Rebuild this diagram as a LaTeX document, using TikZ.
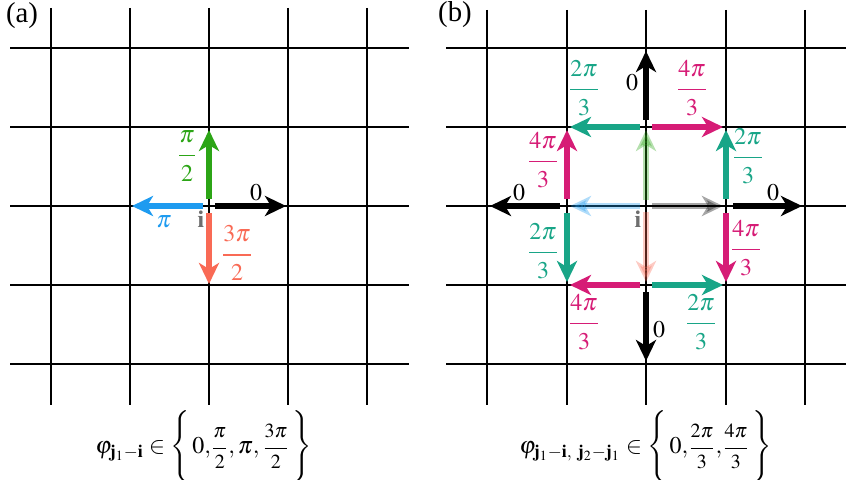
\documentclass[tikz,border=0pt]{standalone}
\usepackage{amsmath}
\usepackage{mathptmx}
\usepackage{fontspec}
\setmainfont{Liberation Serif}
\usetikzlibrary{arrows.meta}
\definecolor{cgreen}{RGB}{44,165,22}
\definecolor{cblue}{RGB}{30,155,240}
\definecolor{cred}{RGB}{249,106,85}
\definecolor{cteal}{RGB}{24,165,135}
\definecolor{cmag}{RGB}{214,28,118}
\definecolor{cgray}{RGB}{110,110,110}
\newcommand{\myfr}[2]{\genfrac{}{}{0.6pt}{0}{\raisebox{1.5pt}{$#1$}}{\raisebox{-1.5pt}{$#2$}}}
\newcommand{\smfr}[2]{\mbox{\normalsize$\genfrac{}{}{0.5pt}{0}{\raisebox{1pt}{$#1$}}{\raisebox{-1pt}{$#2$}}$}}
\tikzset{
  gridline/.style={line width=1pt,black},
  vec/.style={line width=2.6pt,-{Stealth[length=10.5pt,width=10pt,inset=3pt]}},
  faded/.style={vec,opacity=0.35},
  lab/.style={inner sep=0pt,font=\large},
}
\begin{document}
\begin{tikzpicture}[x=0.5pt,y=-0.5pt]
\useasboundingbox (0,0) rectangle (860,480);
% panel (a) grid
\foreach \x in {51,130,209,288,367} \draw[gridline] (\x,8) -- (\x,405);
\foreach \y in {48,127,206,285,364} \draw[gridline] (10,\y) -- (409,\y);
% panel (b) grid
\foreach \x in {487,567,646,726,805} \draw[gridline] (\x,10) -- (\x,405);
\foreach \y in {48,127,206,285,364} \draw[gridline] (446,\y) -- (846,\y);

\node[lab,font=\Large] (la) at (22,16) {(a)};
\node[lab,font=\Large] (lb) at (455,15) {(b)};

% ---- panel (a) arrows
\coordinate (aU0) at (209,199); \coordinate (aU1) at (209,130);
\coordinate (aR0) at (215,206); \coordinate (aR1) at (286,206);
\coordinate (aL0) at (203,206); \coordinate (aL1) at (132,206);
\coordinate (aD0) at (209,213); \coordinate (aD1) at (209,284);
\draw[vec,cgreen] (aU0) -- (aU1);
\draw[vec,black] (aR0) -- (aR1);
\draw[vec,cblue] (aL0) -- (aL1);
\draw[vec,cred] (aD0) -- (aD1);
\node[lab,text=cgreen] (apu) at (187,156) {$\myfr{\pi}{2}$};
\node[lab] (ap0) at (256,193) {$0$};
\node[lab,text=cblue] (app) at (164,222) {$\pi$};
\node[lab,text=cred] (ap3) at (237,253) {$\myfr{3\pi}{2}$};
\node[lab,text=cgray] (ai) at (201,219) {$\mathbf{i}$};

% ---- panel (b) faded centre arrows
\coordinate (bU0) at (646,200); \coordinate (bU1) at (646,130);
\coordinate (bR0) at (652,206); \coordinate (bR1) at (723,206);
\coordinate (bL0) at (640,206); \coordinate (bL1) at (570,206);
\coordinate (bD0) at (646,212); \coordinate (bD1) at (646,282);
\draw[faded,cgreen] (bU0) -- (bU1);
\draw[faded,black] (bR0) -- (bR1);
\draw[faded,cblue] (bL0) -- (bL1);
\draw[faded,cred] (bD0) -- (bD1);

% black outward arrows
\coordinate (oU0) at (646,120); \coordinate (oU1) at (646,51);
\coordinate (oR0) at (733,206); \coordinate (oR1) at (802,206);
\coordinate (oL0) at (560,206); \coordinate (oL1) at (490,206);
\coordinate (oD0) at (646,292); \coordinate (oD1) at (646,361);
\draw[vec,black] (oU0) -- (oU1);
\draw[vec,black] (oR0) -- (oR1);
\draw[vec,black] (oL0) -- (oL1);
\draw[vec,black] (oD0) -- (oD1);

% coloured ring arrows
\coordinate (tl0) at (640,127); \coordinate (tl1) at (570,127);
\coordinate (tr0) at (652,127); \coordinate (tr1) at (723,127);
\coordinate (lu0) at (567,199); \coordinate (lu1) at (567,130);
\coordinate (ld0) at (567,213); \coordinate (ld1) at (567,282);
\coordinate (ru0) at (726,199); \coordinate (ru1) at (726,130);
\coordinate (rd0) at (726,213); \coordinate (rd1) at (726,282);
\coordinate (bl0) at (640,285); \coordinate (bl1) at (570,285);
\coordinate (br0) at (652,285); \coordinate (br1) at (723,285);
\draw[vec,cteal] (tl0) -- (tl1);
\draw[vec,cmag] (tr0) -- (tr1);
\draw[vec,cmag] (lu0) -- (lu1);
\draw[vec,cteal] (ld0) -- (ld1);
\draw[vec,cteal] (ru0) -- (ru1);
\draw[vec,cmag] (rd0) -- (rd1);
\draw[vec,cmag] (bl0) -- (bl1);
\draw[vec,cteal] (br0) -- (br1);

% labels (b)
\node[lab,text=cteal] (t1) at (584,88) {$\myfr{2\pi}{3}$};
\node[lab] (z1) at (632,83) {$0$};
\node[lab,text=cmag] (m1) at (692,88) {$\myfr{4\pi}{3}$};
\node[lab,text=cmag] (m2) at (543,160) {$\myfr{4\pi}{3}$};
\node[lab,text=cteal] (t2) at (748,156) {$\myfr{2\pi}{3}$};
\node[lab] (z2) at (519,193) {$0$};
\node[lab] (z3) at (773,193) {$0$};
\node[lab,text=cteal] (t3) at (543,251) {$\myfr{2\pi}{3}$};
\node[lab,text=cmag] (m3) at (746,248) {$\myfr{4\pi}{3}$};
\node[lab,text=cmag] (m4) at (584,322) {$\myfr{4\pi}{3}$};
\node[lab] (z4) at (659,330) {$0$};
\node[lab,text=cteal] (t4) at (701,322) {$\myfr{2\pi}{3}$};
\node[lab,text=cgray] (bi) at (638,219) {$\mathbf{i}$};

% formulas
\node[lab,anchor=east] (fa) at (312,447) {$\displaystyle \varphi_{\mathbf{j}_1-\mathbf{i}}\in\Bigg\{\,0{,}\smfr{\pi}{2}{,}\,\pi{,}\,\smfr{3\pi}{2}\,\Bigg\}$};
\node[lab,anchor=east] (fb) at (772,447) {$\displaystyle \varphi_{\mathbf{j}_1-\mathbf{i},\ \mathbf{j}_2-\mathbf{j}_1}\in\Bigg\{\,0{,}\smfr{2\pi}{3}{,}\smfr{4\pi}{3}\,\Bigg\}$};
\end{tikzpicture}
\end{document}
